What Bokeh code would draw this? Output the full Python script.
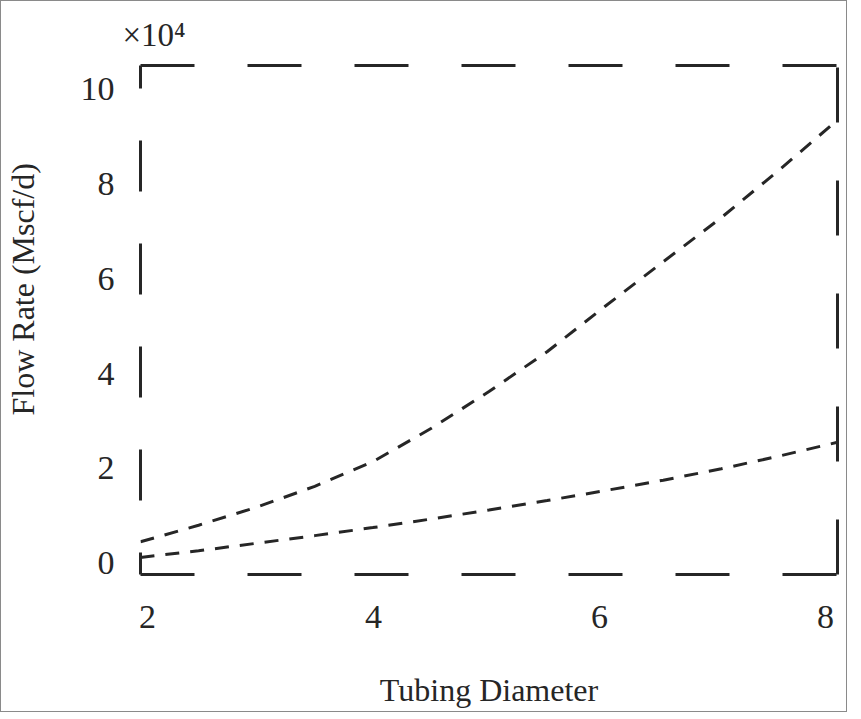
from bokeh.plotting import figure
from bokeh.models import Range1d, LinearAxis, FixedTicker, Title, CustomJSTickFormatter
from bokeh.embed import file_html
from bokeh.resources import INLINE

# ---- data ----
diameter = [2.0, 2.5, 3.0, 3.5, 4.0, 4.5, 5.0, 5.5, 6.0, 6.5, 7.0, 7.5, 8.0]
flow_upper = [4500, 8000, 11800, 16200, 21400, 28400, 36200, 44600, 54200, 63600, 72900, 83000, 93500]
flow_lower = [1200, 2600, 4200, 5800, 7500, 9300, 11200, 13200, 15300, 17500, 19900, 22600, 25500]
x_ticks = [2, 4, 6, 8]
y_ticks = [0, 20000, 40000, 60000, 80000, 100000]
x_label = "Tubing Diameter"
y_label = "Flow Rate (Mscf/d)"
y_multiplier = "\u00d710\u2074"

INK = "#262626"
FONT = "Liberation Serif"

p = figure(frame_width=697, frame_height=509,
           x_range=Range1d(2, 8), y_range=Range1d(-2400, 105000),
           x_axis_location=None, y_axis_location=None,
           toolbar_location=None, output_backend="svg",
           min_border_left=139, min_border_right=9,
           min_border_top=64, min_border_bottom=137,
           title=y_multiplier)
p.title.align = "left"
p.title.text_font = FONT
p.title.text_font_size = "33px"
p.title.text_font_style = "normal"
p.title.text_color = INK
p.title.offset = -18
p.title.standoff = 26
p.extra_x_ranges = {"lab": Range1d(1.938, 8.106)}
p.outline_line_color = None
p.background_fill_color = "white"
p.border_fill_color = "white"
p.styles = {"border": "1px solid #8a8a8a"}
p.grid.visible = False


def style_axis(ax, dash, offset=0):
    ax.axis_line_color = INK
    ax.axis_line_width = 3
    ax.axis_line_dash = dash
    ax.axis_line_dash_offset = offset
    ax.major_tick_line_color = None
    ax.minor_tick_line_color = None
    ax.major_label_text_font = FONT
    ax.major_label_text_color = INK
    ax.major_label_text_font_size = "34px"
    ax.axis_label_text_font = FONT
    ax.axis_label_text_font_style = "normal"
    ax.axis_label_text_color = INK
    ax.axis_label_text_font_size = "32px"


bottom = LinearAxis(x_range_name="lab", ticker=FixedTicker(ticks=x_ticks),
                    axis_label=x_label)
style_axis(bottom, "54 53")
bottom.major_label_standoff = 25
bottom.axis_label_standoff = 41
p.add_layout(bottom, "below")

left = LinearAxis(ticker=FixedTicker(ticks=y_ticks),
                  formatter=CustomJSTickFormatter(code="return (tick/10000).toFixed(0);"))
style_axis(left, "51 52", 29)
left.major_label_standoff = 20
p.add_layout(left, "left")

top = LinearAxis(ticker=FixedTicker(ticks=[]))
style_axis(top, "54 53")
top.major_label_text_font_size = "0px"
p.add_layout(top, "above")

right = LinearAxis(ticker=FixedTicker(ticks=[]))
style_axis(right, "55 58")
right.major_label_text_font_size = "0px"
p.add_layout(right, "right")

ytitle = Title(text=y_label, align="left", offset=159, standoff=1,
               text_font=FONT, text_font_size="32px", text_font_style="normal",
               text_color=INK)
try:
    ytitle.padding = dict(left=0, right=0, top=0, bottom=36)
except Exception:
    ytitle.standoff = 37
p.add_layout(ytitle, "left")

p.line(diameter, flow_upper, line_color=INK, line_width=3, line_dash="14 11")
p.line(diameter, flow_lower, line_color=INK, line_width=3, line_dash="14 11")

open("out.html", "w").write(file_html(p, INLINE))
